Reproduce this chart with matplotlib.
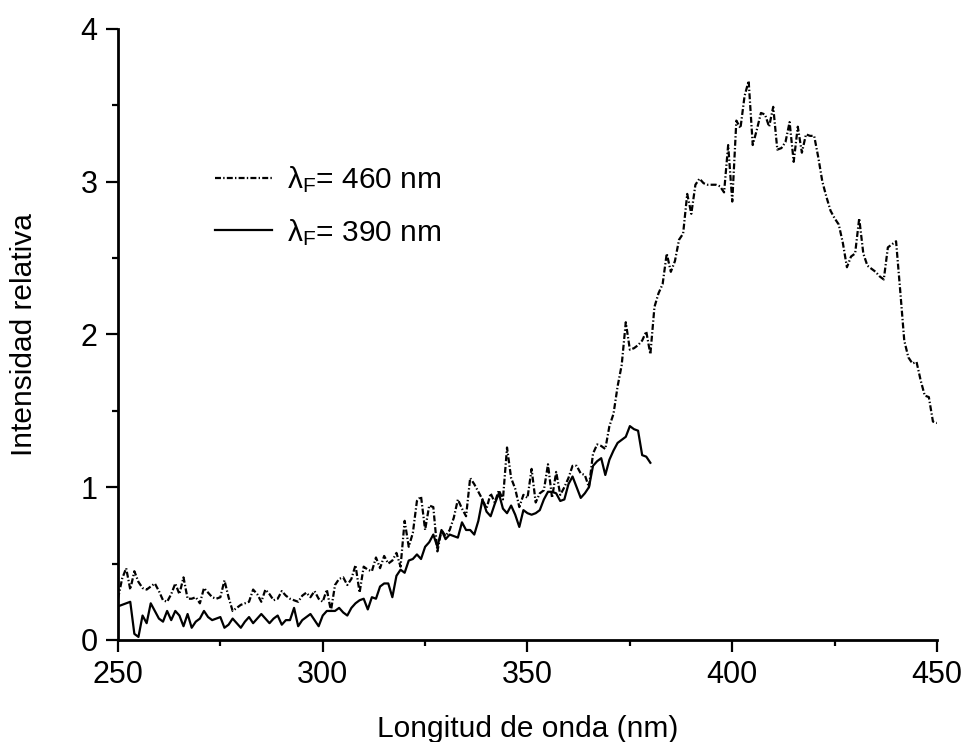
import matplotlib
matplotlib.use("Agg")
import matplotlib.pyplot as plt
import numpy as np

plt.rcParams['font.family'] = ['Liberation Sans', 'DejaVu Sans']
plt.rcParams['mathtext.fontset'] = 'custom'
plt.rcParams['mathtext.rm'] = 'Liberation Sans'
plt.rcParams['mathtext.it'] = 'Liberation Sans'
plt.rcParams['lines.scale_dashes'] = False

# emission at 460 nm, excitation scan 250-450 nm (1 nm step)
wl_460 = list(range(250, 451))
int_460 = [
    0.27, 0.40, 0.47, 0.33, 0.45, 0.38, 0.34, 0.33, 0.35, 0.37,
    0.32, 0.26, 0.25, 0.30, 0.37, 0.30, 0.41, 0.27, 0.27, 0.28,
    0.24, 0.34, 0.31, 0.28, 0.27, 0.28, 0.39, 0.28, 0.19, 0.21,
    0.23, 0.24, 0.25, 0.33, 0.30, 0.25, 0.33, 0.30, 0.26, 0.27,
    0.32, 0.29, 0.27, 0.26, 0.25, 0.29, 0.31, 0.28, 0.32, 0.27,
    0.25, 0.33, 0.19, 0.36, 0.40, 0.41, 0.36, 0.40, 0.49, 0.31,
    0.48, 0.46, 0.45, 0.54, 0.47, 0.55, 0.50, 0.52, 0.57, 0.48,
    0.78, 0.61, 0.70, 0.91, 0.94, 0.72, 0.88, 0.87, 0.58, 0.72,
    0.68, 0.72, 0.80, 0.92, 0.86, 0.81, 1.06, 1.02, 0.97, 0.92,
    0.86, 0.96, 0.90, 0.98, 0.92, 1.26, 1.06, 0.99, 0.87, 0.95,
    0.93, 1.12, 0.90, 0.96, 0.98, 1.15, 0.93, 1.10, 0.95, 1.00,
    1.06, 1.14, 1.14, 1.09, 1.08, 1.00, 1.22, 1.28, 1.27, 1.25,
    1.40, 1.48, 1.66, 1.80, 2.08, 1.90, 1.91, 1.93, 1.96, 2.02,
    1.87, 2.18, 2.27, 2.33, 2.53, 2.41, 2.48, 2.62, 2.66, 2.92,
    2.79, 2.98, 3.02, 2.99, 2.98, 2.98, 2.98, 2.97, 2.93, 3.24,
    2.87, 3.40, 3.35, 3.56, 3.66, 3.24, 3.34, 3.45, 3.44, 3.36,
    3.49, 3.21, 3.22, 3.26, 3.39, 3.13, 3.36, 3.19, 3.31, 3.30,
    3.30, 3.16, 3.00, 2.90, 2.81, 2.76, 2.72, 2.60, 2.44, 2.51,
    2.53, 2.76, 2.53, 2.45, 2.43, 2.41, 2.38, 2.36, 2.57, 2.59,
    2.61, 2.29, 1.96, 1.85, 1.81, 1.82, 1.70, 1.60, 1.59, 1.43,
    1.42,
]

# emission at 390 nm, excitation scan 250-380 nm
wl_390 = list(range(250, 381))
int_390 = [
    0.22, 0.23, 0.24, 0.25, 0.04, 0.02, 0.16, 0.11, 0.24, 0.19,
    0.14, 0.12, 0.19, 0.13, 0.19, 0.16, 0.09, 0.17, 0.08, 0.12,
    0.14, 0.19, 0.15, 0.13, 0.14, 0.15, 0.08, 0.10, 0.14, 0.11,
    0.08, 0.12, 0.15, 0.11, 0.14, 0.17, 0.14, 0.11, 0.14, 0.16,
    0.10, 0.13, 0.13, 0.21, 0.09, 0.13, 0.15, 0.17, 0.13, 0.09,
    0.16, 0.19, 0.19, 0.19, 0.21, 0.18, 0.16, 0.21, 0.24, 0.26,
    0.27, 0.20, 0.28, 0.27, 0.35, 0.37, 0.37, 0.28, 0.42, 0.46,
    0.44, 0.52, 0.53, 0.56, 0.53, 0.61, 0.64, 0.69, 0.61, 0.72,
    0.66, 0.69, 0.68, 0.67, 0.77, 0.72, 0.72, 0.69, 0.78, 0.92,
    0.84, 0.81, 0.89, 0.96, 0.86, 0.83, 0.88, 0.82, 0.74, 0.85,
    0.83, 0.82, 0.83, 0.85, 0.92, 0.97, 0.97, 0.96, 0.91, 0.92,
    1.02, 1.07, 1.00, 0.93, 0.96, 1.00, 1.14, 1.17, 1.19, 1.08,
    1.18, 1.24, 1.29, 1.31, 1.33, 1.40, 1.38, 1.37, 1.21, 1.20,
    1.16,
]

labels = [r'$\mathrm{\lambda_F}$= 460 nm', r'$\mathrm{\lambda_F}$= 390 nm']

fig = plt.figure(figsize=(9.67, 7.42), dpi=100)
ax = fig.add_axes([0.122, 0.1375, 0.847, 0.8235])

ax.plot(wl_460, int_460, color='black', lw=1.6, dashes=(4.3, 1.6, 1.0, 1.6), label=labels[0])
ax.plot(wl_390, int_390, color='black', lw=1.6, label=labels[1])

ax.set_xlim(250, 450)
ax.set_ylim(0, 4)
ax.set_xticks(np.arange(250, 451, 50))
ax.set_xticks(np.arange(275, 451, 50), minor=True)
ax.set_yticks(np.arange(0, 5, 1))
ax.set_yticks(np.arange(0.5, 4, 1), minor=True)

for side in ['top', 'right']:
    ax.spines[side].set_visible(False)
for side in ['left', 'bottom']:
    ax.spines[side].set_linewidth(2.0)

ax.tick_params(which='major', direction='out', length=8.6, width=1.6, labelsize=22, pad=6)
ax.tick_params(which='minor', direction='out', length=4.3, width=1.6)

ax.set_xlabel('Longitud de onda (nm)', fontsize=21.5, labelpad=18)
ax.set_ylabel('Intensidad relativa', fontsize=21.5)
ax.yaxis.set_label_coords(-0.098, 0.5)

ax.legend(loc='upper left', bbox_to_anchor=(0.1038, 0.7976), frameon=False, fontsize=21.5,
          handlelength=1.9, handletextpad=0.5, labelspacing=0.72, borderaxespad=0)

fig.savefig('out.png', dpi=100)
